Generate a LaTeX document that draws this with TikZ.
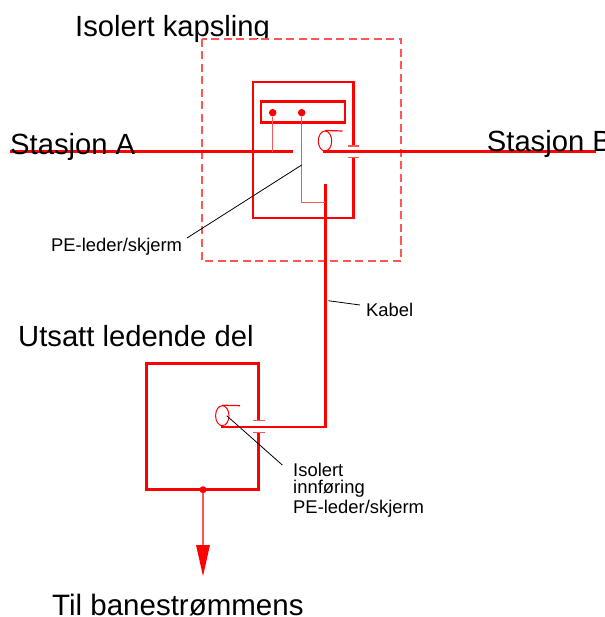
\documentclass[tikz,border=0pt]{standalone}
\usepackage{fontspec}
\usetikzlibrary{shapes.geometric}
\setmainfont{Liberation Sans}
\definecolor{rd}{RGB}{255,0,0}
\definecolor{pinkrd}{RGB}{255,85,85}
\tikzset{
 x=1pt,y=-1pt,
 thick line/.style={draw=rd,line width=2.8pt},
 thin line/.style={draw=pinkrd,line width=1.2pt},
 leader/.style={draw=black,line width=.8pt},
 big/.style={inner sep=0,anchor=base west,font=\fontsize{29.2}{29.2}\selectfont},
 small/.style={inner sep=0,anchor=base west,font=\fontsize{18.4}{18.4}\selectfont,align=left},
 dot/.style={circle,fill=rd,inner sep=0,minimum size=7.5pt}
}
\begin{document}
\begin{tikzpicture}
\useasboundingbox (0,0) rectangle (604,617);
\fill[white] (0,0) rectangle (604,617);
\begin{scope}
\clip (0,0) rectangle (604,617);
% title lies behind the enclosure, which hides the tail of its g
\node[big] (tkap) at (75,37) {Isolert kapsling};
\draw[draw=pinkrd,fill=white,line width=1.1pt,dash pattern=on 8pt off 4.5pt] (202,39) rectangle (401,261);
% upper box
\coordinate (ua) at (353.7,146); \coordinate (ub) at (353.7,82); \coordinate (uc) at (253,82);
\coordinate (ud) at (253,218); \coordinate (ue) at (353.7,218); \coordinate (uf) at (353.7,157.7);
\draw[thick line] (ua) -- (ub) -- (uc) -- (ud) -- (ue) -- (uf);
\draw[thin line,line width=1.4pt] (348,146) -- (359,146) (348,157.7) -- (359,157.7);
\node[draw=rd,line width=2.6pt,minimum width=84pt,minimum height=20.5pt,inner sep=0] (term) at (303,112) {};
\node[dot] (d1) at (272.7,112.7) {};
\node[dot] (d2) at (301.7,112.7) {};
% station lines
\coordinate (la) at (10,151.7); \coordinate (lb) at (292.7,151.7);
\coordinate (ra) at (323,151.7); \coordinate (rb) at (596,151.7);
\draw[thick line] (la) -- (lb);
\draw[thick line] (ra) -- (rb);
\draw[thin line] (d1) -- (272.7,151.7);
% cable
\coordinate (ca) at (325.3,184); \coordinate (cb) at (325.3,427); \coordinate (cc) at (220.7,427);
\draw[thick line] (ca) -- (cb) -- (cc);
\draw[thin line] (d2) -- (301.7,202.7) -- (325.3,202.7);
% upper ellipse
\node[draw=rd,line width=1pt,ellipse,minimum width=13.4pt,minimum height=20pt,inner sep=0] (e1) at (325,141) {};
\draw[thin line,draw=rd] (e1.north) -- (342.7,131);
% lower box
\coordinate (va) at (258.7,420.7); \coordinate (vb) at (258.7,363.3); \coordinate (vc) at (146.7,363.3);
\coordinate (vd) at (146.7,489.7); \coordinate (ve) at (258.7,489.7); \coordinate (vf) at (258.7,432.7);
\draw[thick line] (va) -- (vb) -- (vc) -- (vd) -- (ve) -- (vf);
\draw[thin line,line width=1.4pt] (253,420.7) -- (265,420.7) (253,432.7) -- (265,432.7);
\node[draw=rd,line width=1pt,ellipse,minimum width=13.4pt,minimum height=20pt,inner sep=0] (e2) at (222.3,415.7) {};
\draw[thin line,draw=rd] (e2.north) -- (240,405.7);
% earth
\node[dot,minimum size=7pt] (d3) at (203,489.7) {};
\coordinate (tip) at (203,576);
\draw[thin line] (d3) -- (203,546);
\fill[rd] (196,545) -- (210,545) -- (tip) -- cycle;
% leaders
\coordinate (l1) at (187,238);
\draw[leader] (301.7,165) -- (l1);
\coordinate (l2) at (282.3,465);
\draw[leader] (226.7,415.7) -- (l2);
\coordinate (l3) at (360,305);
\draw[leader] (328.3,300.7) -- (l3);
% labels
\node[big] (tA) at (10,155) {Stasjon A};
\node[big] (tB) at (486.7,152) {Stasjon B};
\node[big] (tU) at (18,346.5) {Utsatt ledende del};
\node[big,font=\fontsize{29.5}{29.5}\selectfont] (tT) at (52,615.5) {Til banestrømmens};
\node[small] (tPE) at (51,251.7) {PE-leder/skjerm};
\node[small] (tK) at (366,316.3) {Kabel};
\node[small] (tI1) at (293,476.5) {Isolert};
\node[small] (tI2) at (293,493.5) {innføring};
\node[small] (tI3) at (293,513) {PE-leder/skjerm};
\end{scope}
\end{tikzpicture}
\end{document}
